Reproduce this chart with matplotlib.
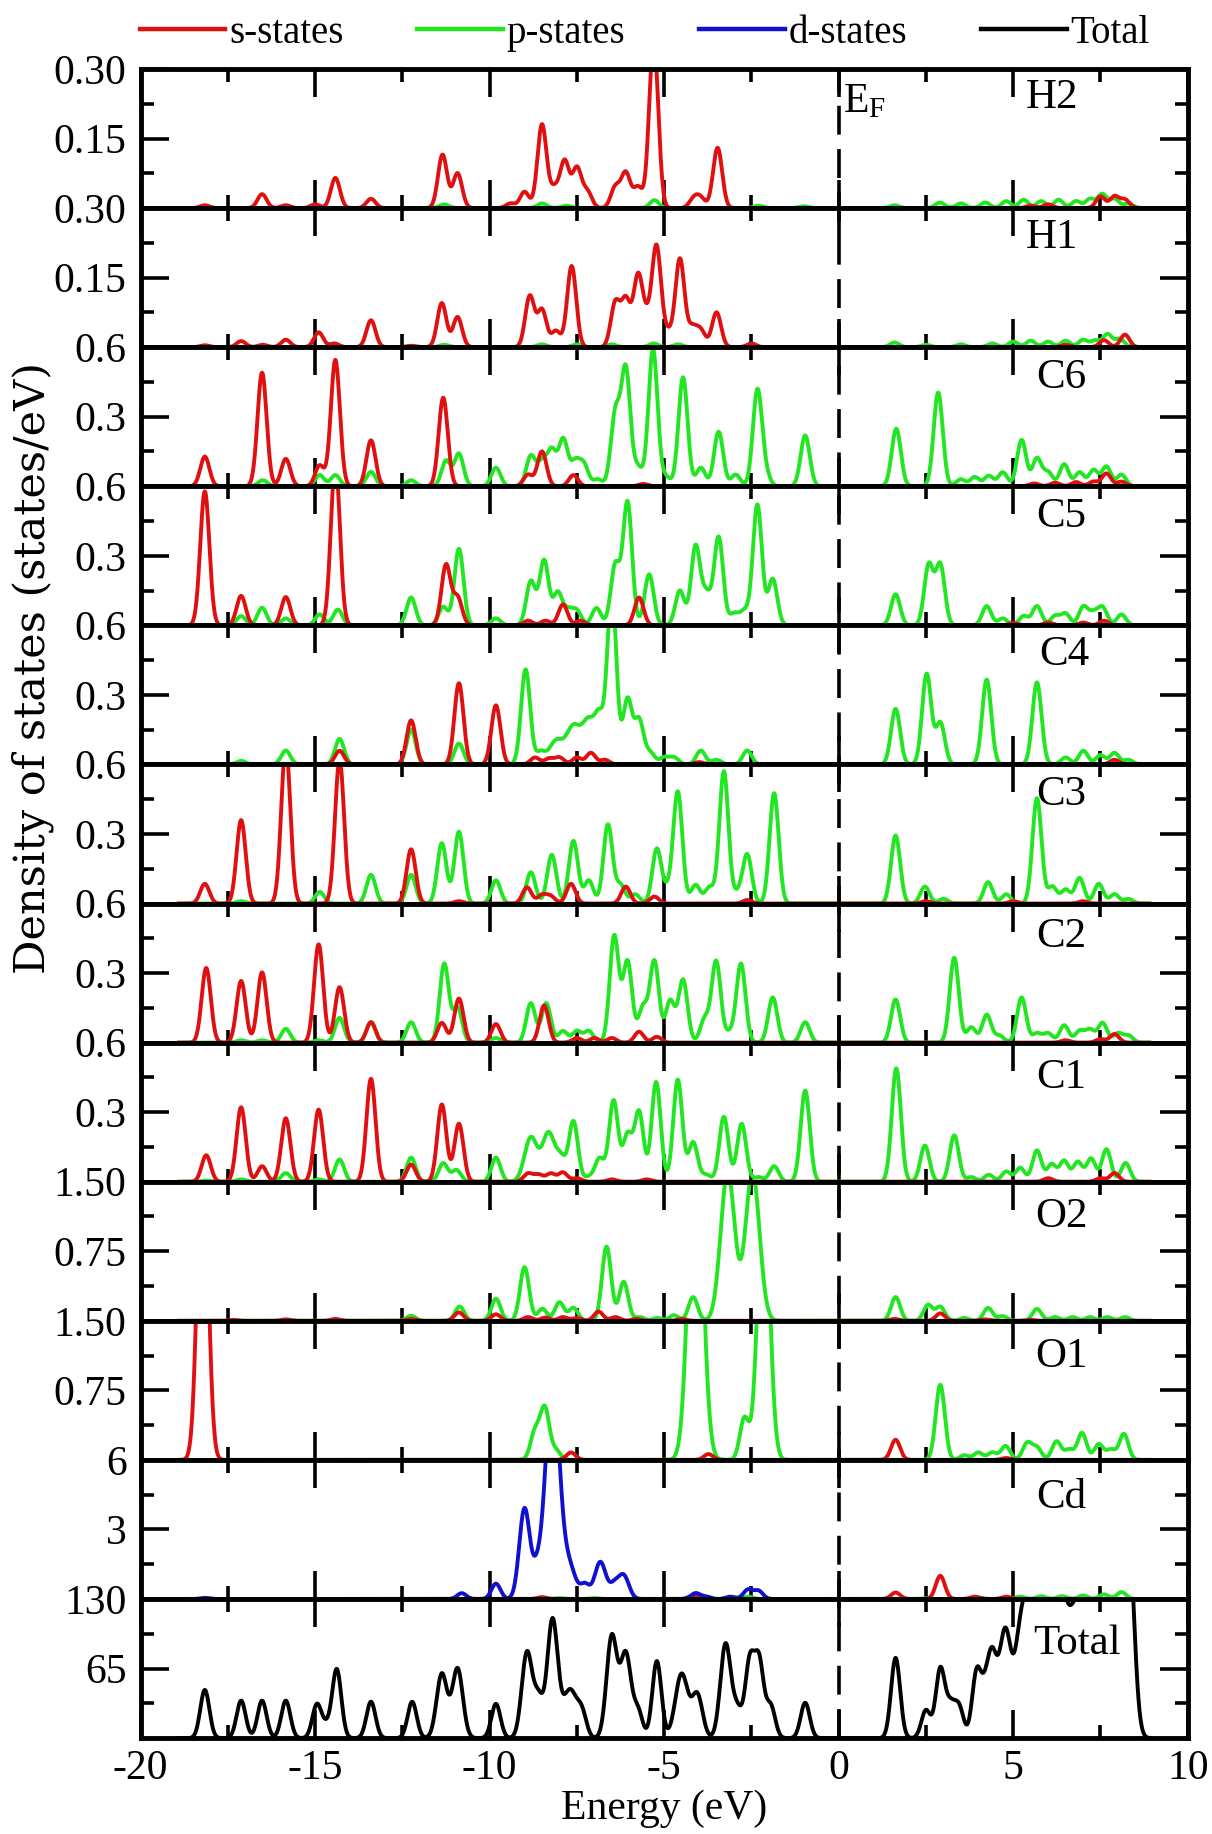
import matplotlib.pyplot as plt
import numpy as np
from matplotlib.lines import Line2D
from matplotlib.ticker import MultipleLocator

plt.rcParams['font.family'] = ['Liberation Serif', 'DejaVu Serif']
plt.rcParams['mathtext.fontset'] = 'custom'
plt.rcParams['mathtext.rm'] = 'Liberation Serif'
plt.rcParams['mathtext.it'] = 'Liberation Serif:italic'
plt.rcParams['axes.unicode_minus'] = False

## partial DOS, given as peak lists (energy in eV, height in states/eV, optional width)
## broadened with a gaussian of default width SIGMA

SIGMA = 0.13

h2_s = [(-18.16, .006), (-16.52, .03), (-15.84, .006), (-15.0, .008), (-14.42, .065), (-13.4, .02),
        (-11.35, .115), (-10.92, .075), (-9.4, .01), (-9.0, .035), (-8.5, .18), (-8.15, .04),
        (-7.85, .1), (-7.5, .085), (-7.2, .035), (-6.4, .045), (-6.1, .075), (-5.75, .045),
        (-5.3, .36), (-4.15, .02), (-3.95, .02), (-3.47, .13), (5.5, .005), (6.0, .008),
        (7.5, .025), (7.9, .025), (8.2, .018)]
h2_p = [(-11.3, .008), (-8.5, .01), (-7.8, .005), (-5.28, .017), (-2.3, .005), (-1.0, .004),
        (1.6, .006), (2.9, .012), (3.5, .01), (4.2, .012), (4.8, .015), (5.3, .018), (5.8, .015),
        (6.3, .018), (6.8, .015), (7.2, .02), (7.55, .03), (7.9, .02), (8.3, .01)]

h1_s = [(-18.16, .004), (-17.12, .013), (-16.5, .005), (-15.84, .016), (-14.9, .032), (-14.45, .008),
        (-13.4, .058), (-12.25, .003), (-11.37, .095), (-10.92, .065), (-8.85, .11), (-8.5, .08),
        (-8.1, .035), (-7.65, .175), (-6.4, .095), (-6.1, .1), (-5.75, .15), (-5.5, .05), (-5.22, .215),
        (-4.9, .03), (-4.55, .19), (-4.2, .04), (-3.95, .035), (-3.5, .075), (-2.5, .008),
        (6.5, .005), (7.6, .015), (8.2, .027)]
h1_p = [(-11.3, .005), (-8.5, .006), (-7.5, .006), (-6.5, .006), (-5.3, .008), (-4.6, .006),
        (1.6, .01), (2.5, .005), (3.5, .006), (4.4, .008), (5.0, .012), (5.5, .014), (6.0, .012),
        (6.5, .014), (7.0, .016), (7.35, .014), (7.7, .028), (8.05, .018)]

c6_s = [(-18.16, .128), (-16.52, .49), (-15.84, .118), (-14.87, .09), (-14.42, .545), (-13.4, .198),
        (-11.33, .382), (-8.9, .05), (-8.5, .15), (-7.6, .048), (-5.6, .01), (5.6, .012),
        (6.2, .015), (6.8, .018), (7.3, .02), (7.67, .055), (8.1, .02)]
c6_p = [(-16.5, .026), (-14.87, .048), (-14.42, .048), (-13.4, .062), (-12.25, .026), (-11.25, .11),
        (-10.88, .14), (-9.82, .08), (-8.82, .13), (-8.5, .1), (-8.22, .15), (-7.89, .2),
        (-7.55, .1), (-7.3, .09), (-6.9, .03), (-6.4, .31), (-6.1, .5), (-5.75, .08), (-5.32, .59),
        (-4.95, .04), (-4.46, .47), (-3.95, .08), (-3.44, .235), (-2.95, .05), (-2.33, .41),
        (-2.1, .05), (-0.96, .219), (1.65, .248), (2.85, .404), (3.5, .03), (3.9, .04), (4.3, .045),
        (4.7, .06), (5.24, .2), (5.68, .12), (6.0, .06), (6.46, .095), (6.9, .06), (7.3, .07),
        (7.67, .085), (8.1, .05)]

c5_s = [(-18.16, .578), (-17.12, .127), (-15.84, .122), (-14.42, .7), (-11.25, .26), (-10.92, .12),
        (-8.9, .02), (-8.4, .02), (-7.9, .09), (-7.4, .02), (-5.72, .12), (5.0, .01), (6.0, .012),
        (7.0, .012), (7.6, .02)]
c5_p = [(-17.12, .04), (-16.52, .076), (-15.84, .03), (-14.87, .047), (-14.35, .068), (-12.25, .12),
        (-11.33, .08), (-10.88, .33), (-9.82, .03), (-8.82, .19), (-8.44, .28), (-8.05, .14),
        (-7.75, .06), (-7.5, .06), (-6.94, .075), (-6.4, .26), (-6.05, .53), (-5.43, .22),
        (-4.55, .15), (-4.1, .34), (-3.79, .13), (-3.44, .38), (-3.0, .05), (-2.7, .06), (-2.33, .52),
        (-1.89, .2), (1.63, .134), (2.58, .26), (2.91, .26), (4.24, .083), (4.7, .03), (5.3, .04),
        (5.68, .083), (6.2, .04), (6.5, .05), (7.01, .08), (7.3, .05), (7.56, .075), (8.1, .047)]

c4_s = [(-14.3, .059), (-12.25, .19), (-10.88, .35), (-9.82, .255), (-8.7, .03), (-8.3, .025),
        (-8.0, .03), (-7.5, .03), (-7.1, .05), (-6.7, .02), (-4.0, .01), (7.9, .02)]
c4_p = [(-17.12, .015), (-15.84, .06), (-14.3, .11), (-12.25, .15), (-10.88, .09), (-8.97, .41),
        (-8.55, .05), (-8.1, .1, .2), (-7.6, .16, .2), (-7.16, .18, .18), (-6.85, .18), (-6.5, .75),
        (-6.05, .28), (-5.72, .19), (-5.4, .05), (-5.0, .03), (-4.72, .03), (-3.95, .06), (-3.5, .02),
        (-2.62, .06), (1.63, .24), (2.52, .39), (2.91, .18), (4.24, .366), (5.68, .354), (6.5, .03),
        (7.01, .059), (7.5, .04), (7.9, .05), (8.3, .02)]

c3_s = [(-18.16, .085), (-17.12, .36), (-15.84, .68), (-14.3, .62), (-12.25, .234), (-10.88, .01),
        (-8.93, .07), (-8.5, .035), (-8.25, .03), (-7.67, .085), (-6.1, .073), (-5.28, .03),
        (-2.62, .015), (2.5, .01), (5.0, .01), (7.0, .01)]
c3_p = [(-17.12, .01), (-14.87, .05), (-13.4, .124), (-12.25, .124), (-11.37, .26), (-10.88, .31),
        (-9.82, .1), (-8.82, .135), (-8.22, .21), (-7.6, .27), (-7.16, .1), (-6.61, .34),
        (-6.25, .08), (-5.83, .04), (-5.21, .235), (-4.9, .05), (-4.61, .48), (-4.1, .08),
        (-3.7, .07), (-3.29, .57), (-2.9, .04), (-2.62, .21), (-1.85, .476), (1.63, .293),
        (2.47, .073), (3.0, .02), (4.28, .092), (4.8, .04), (5.68, .454), (6.12, .073), (6.5, .06),
        (6.9, .11), (7.45, .085), (7.9, .04), (8.3, .02)]

c2_s = [(-18.12, .322), (-17.12, .266), (-16.52, .303), (-14.9, .424), (-14.3, .239), (-13.4, .088),
        (-11.37, .085), (-10.88, .19), (-9.82, .08), (-8.44, .16), (-7.5, .02), (-7.0, .02),
        (-6.5, .02), (-5.72, .047), (-5.21, .025), (6.5, .01), (7.5, .015), (7.9, .037)]
c2_p = [(-17.12, .01), (-16.52, .01), (-15.84, .059), (-14.9, .01), (-14.3, .107), (-13.4, .088),
        (-12.25, .088), (-11.3, .34), (-10.92, .15), (-9.82, .02), (-8.82, .17), (-8.38, .17),
        (-7.9, .05), (-7.5, .05), (-7.16, .05), (-6.43, .46), (-6.05, .35), (-5.61, .15),
        (-5.28, .35), (-4.83, .18), (-4.46, .27), (-3.84, .1), (-3.51, .35), (-3.13, .04),
        (-2.8, .34), (-1.89, .195), (-0.96, .088), (1.63, .186), (3.31, .366), (3.8, .066),
        (4.24, .12), (4.6, .03), (5.24, .195), (5.68, .04), (6.0, .04), (6.46, .075), (6.9, .05),
        (7.2, .055), (7.56, .085), (8.0, .04), (8.3, .03)]

c1_s = [(-18.12, .114), (-17.12, .321), (-16.52, .067), (-15.84, .274), (-14.9, .311), (-13.4, .444),
        (-12.25, .074), (-11.37, .333), (-10.88, .25), (-8.9, .035), (-8.6, .03), (-8.25, .035),
        (-7.9, .04), (-7.5, .015), (-6.5, .01), (-5.5, .01), (6.0, .015), (7.5, .015), (7.9, .037)]
c1_p = [(-18.12, .005), (-17.12, .01), (-15.84, .037), (-14.9, .01), (-14.3, .096), (-12.25, .104),
        (-11.33, .08), (-10.95, .05), (-9.82, .104), (-8.82, .19, .18), (-8.31, .21, .18),
        (-7.95, .09), (-7.6, .26), (-7.16, .02), (-6.85, .1), (-6.45, .35), (-6.05, .2),
        (-5.72, .3), (-5.23, .43), (-4.61, .44), (-4.17, .17), (-3.79, .03), (-3.29, .28),
        (-2.78, .25), (-2.3, .02), (-1.85, .067), (-0.96, .393), (1.65, .489), (2.47, .156),
        (3.31, .2), (3.8, .02), (4.3, .03), (4.8, .044), (5.2, .06), (5.68, .135), (6.1, .075),
        (6.46, .09), (6.85, .085), (7.23, .1), (7.67, .14), (8.22, .081)]

o2_s = [(-17.35, .01), (-15.84, .015), (-14.42, .02), (-12.25, .02), (-10.88, .09), (-9.82, .07),
        (-8.9, .04), (-8.4, .035), (-7.9, .04), (-7.5, .03), (-6.88, .1), (-6.4, .04), (-5.8, .02),
        (-4.5, .02), (1.6, .02), (2.91, .08), (4.2, .015), (5.5, .01)]
o2_p = [(-12.25, .055), (-10.86, .154), (-9.82, .238), (-9.0, .578), (-8.49, .13), (-8.0, .2),
        (-7.6, .14), (-6.65, .8), (-6.16, .42), (-5.7, .04), (-5.2, .03), (-4.72, .06),
        (-4.17, .256), (-3.18, 1.6, .2), (-2.47, 1.6, .2), (1.63, .256), (2.56, .17), (2.91, .15),
        (3.6, .03), (4.28, .139), (4.7, .05), (5.68, .128), (6.2, .04), (6.7, .04), (7.2, .04),
        (7.7, .04), (8.2, .04)]

o1_s = [(-18.22, 3.6, .15), (-7.67, .08), (-3.73, .063), (1.63, .217), (4.8, .02)]
o1_p = [(-8.7, .3), (-8.42, .55), (-8.1, .1), (-4.1, 3.7, .2), (-2.7, .45), (-2.15, 3.0, .17),
        (2.91, .81), (3.6, .05), (4.0, .08), (4.4, .08), (4.78, .15), (5.4, .18), (5.68, .13),
        (6.24, .2), (6.6, .11), (6.97, .29), (7.45, .17), (7.8, .11), (8.17, .28)]

cd_s = [(-8.5, .08), (-4.17, .15), (1.63, .28), (2.91, 1.0), (3.9, .1), (4.8, .1)]
cd_p = [(-8.0, .04), (-7.0, .04), (-4.0, .05), (-2.6, .1), (2.5, .03), (4.0, .05), (5.2, .1),
        (5.8, .12), (6.4, .12), (7.0, .15), (7.6, .2), (8.1, .3)]
cd_d = [(-18.16, .05), (-10.8, .25), (-9.82, .66), (-9.0, 3.9, .15), (-8.65, 1.0),
        (-8.2, 9.4, .2), (-7.71, 1.3, .18), (-7.27, .6), (-6.83, 1.6, .16), (-6.43, .55),
        (-6.16, 1.0, .15), (-4.1, .25), (-3.8, .1), (-3.1, .1), (-2.6, .4), (-2.3, .35)]

total = [(-18.16, 45), (-17.12, 35), (-16.52, 35), (-15.84, 35), (-14.95, 31), (-14.68, 10),
         (-14.38, 64), (-13.4, 34), (-12.22, 34), (-11.37, 60, .15), (-10.92, 65, .15), (-9.82, 32),
         (-8.93, 80, .15), (-8.6, 35), (-8.2, 110, .15), (-7.7, 45, .2), (-7.35, 20), (-6.5, 95, .15),
         (-6.1, 78, .15), (-5.75, 25), (-5.21, 72, .13), (-4.5, 60, .18), (-4.05, 40, .15),
         (-3.24, 88, .15), (-2.9, 25), (-2.55, 70, .13), (-2.28, 70, .13), (-1.95, 30), (-0.96, 33),
         (1.63, 75), (2.5, 26), (2.91, 64), (3.2, 28), (3.45, 28), (3.95, 60), (4.2, 35), (4.4, 65),
         (4.77, 100, .17), (5.24, 105, .17), (5.5, 70), (5.8, 150, .22), (6.3, 140, .22),
         (6.75, 80, .2), (7.2, 160, .25), (7.8, 160, .25), (8.3, 180, .16)]

names = ['H2', 'H1', 'C6', 'C5', 'C4', 'C3', 'C2', 'C1', 'O2', 'O1', 'Cd', 'Total']
ymax = [0.30, 0.30, 0.6, 0.6, 0.6, 0.6, 0.6, 0.6, 1.50, 1.50, 6, 130]
ylabels = [['0.15', '0.30'], ['0.15', '0.30'], ['0.3', '0.6'], ['0.3', '0.6'], ['0.3', '0.6'],
           ['0.3', '0.6'], ['0.3', '0.6'], ['0.3', '0.6'], ['0.75', '1.50'], ['0.75', '1.50'],
           ['3', '6'], ['65', '130']]
label_pos = [(0.87, 0.79), (0.87, 0.79), (0.879, 0.78), (0.879, 0.78), (0.882, 0.79),
             (0.879, 0.78), (0.879, 0.76), (0.879, 0.75), (0.879, 0.75), (0.879, 0.74),
             (0.879, 0.73), (0.894, 0.68)]

c_s, c_p, c_d, c_t = '#e01010', '#22e622', '#1010d0', 'black'
panels = [
    [(h2_p, c_p), (h2_s, c_s)],
    [(h1_p, c_p), (h1_s, c_s)],
    [(c6_p, c_p), (c6_s, c_s)],
    [(c5_p, c_p), (c5_s, c_s)],
    [(c4_p, c_p), (c4_s, c_s)],
    [(c3_p, c_p), (c3_s, c_s)],
    [(c2_p, c_p), (c2_s, c_s)],
    [(c1_p, c_p), (c1_s, c_s)],
    [(o2_p, c_p), (o2_s, c_s)],
    [(o1_p, c_p), (o1_s, c_s)],
    [(cd_p, c_p), (cd_s, c_s), (cd_d, c_d)],
    [(total, c_t)],
]

E = np.linspace(-18.9, 8.9, 2781)

def smear(peaks):
    dos = np.zeros_like(E)
    for pk in peaks:
        e0, h = pk[0], pk[1]
        s = pk[2] if len(pk) > 2 else SIGMA
        dos += h * np.exp(-(E - e0)**2 / (2 * s**2))
    return dos

LW = 2.8
fig, axes = plt.subplots(12, 1, sharex=True, figsize=(12.12, 18.34), dpi=100,
                         gridspec_kw=dict(hspace=0))
fig.subplots_adjust(left=0.116, right=0.980, top=0.9624, bottom=0.0523)

for i, ax in enumerate(axes):
    for peaks, col in panels[i]:
        ax.plot(E, smear(peaks), color=col, lw=LW, solid_joinstyle='round')
    top = ymax[i]
    ax.set_ylim(0, top)
    ax.set_xlim(-20, 10)
    ax.set_yticks([top / 2, top])
    ax.set_yticklabels(ylabels[i])
    ax.set_yticks([top / 4, 3 * top / 4], minor=True)
    ax.xaxis.set_major_locator(MultipleLocator(5))
    ax.xaxis.set_minor_locator(MultipleLocator(2.5))
    ax.tick_params(which='both', direction='in', top=True, right=True, width=2.6,
                   labelsize=30)
    ax.tick_params(axis='y', pad=10)
    ax.tick_params(axis='x', pad=8)
    ax.tick_params(which='major', length=20)
    ax.tick_params(which='minor', length=9.5)
    for sp in ax.spines.values():
        sp.set_linewidth(3.5)
    ax.text(label_pos[i][0], label_pos[i][1], names[i], transform=ax.transAxes,
            ha='center', va='center', fontsize=31)

axes[0].text(0.12, 0.30 * 0.76, r'E$_\mathrm{F}$', fontsize=30, va='center')
axes[-1].set_xlabel('Energy (eV)', fontsize=30, labelpad=1)
fig.text(0.027, 0.636, 'Density of states (states/eV)', rotation=90, fontsize=31,
         family='DejaVu Serif', ha='center', va='center')

# Fermi level across all panels
x0 = 0.116 + (0 + 20) / 30 * (0.980 - 0.116)
fig.add_artist(Line2D([x0, x0], [0.0523, 0.9624], transform=fig.transFigure, color='black',
                      lw=2.6, dashes=(8, 4)))

handles = [Line2D([], [], color=c, lw=LW + 0.4) for c in (c_s, c_p, c_d, c_t)]
fig.legend(handles, ['s-states', 'p-states', 'd-states', 'Total'], ncol=4, loc='center',
           bbox_to_anchor=(0.532, 0.982), frameon=False, fontsize=28, handlelength=2.2,
           handletextpad=0.1, columnspacing=1.9)

fig.savefig('out.png', dpi=100)
